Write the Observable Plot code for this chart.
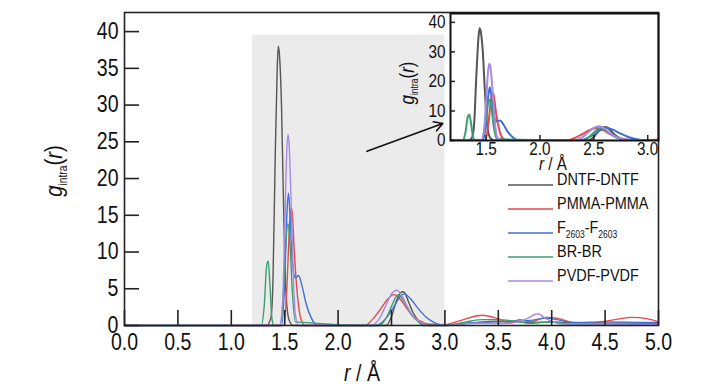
<!DOCTYPE html>
<html><head><meta charset="utf-8">
<script src="https://cdn.jsdelivr.net/npm/d3@7"></script>
<script src="https://cdn.jsdelivr.net/npm/@observablehq/plot@0.6"></script>
<style>
body{margin:0;background:#fff;}
#wrap{position:relative;width:728px;height:390px;overflow:hidden;background:#fff;}
#wrap svg{position:absolute;}
</style></head><body><div id="wrap"></div>
<script>
const FONT = '"Liberation Sans Narrow","Arial Narrow","Liberation Sans",Arial,sans-serif';

// ---- series ----
const seriesNames = ["DNTF-DNTF", "PMMA-PMMA", "F_{2603}-F_{2603}", "BR-BR", "PVDF-PVDF"];
const seriesColors = ["#555555", "#e5484d", "#3d6fd2", "#3c9e70", "#a68be2"];

const dntfR = [0, 1.33, 1.37, 1.39, 1.41, 1.43, 1.44, 1.45, 1.47, 1.49, 1.51, 1.54, 1.58, 2.45, 2.5, 2.55, 2.6, 2.62, 2.66, 2.7, 2.75, 2.8, 3.0, 3.2, 3.5, 3.8, 4.0, 4.3, 4.6, 5.0];
const dntfG = [0, 0, 1, 6, 22, 35, 38, 37, 30, 16, 5, 0.8, 0, 0, 1.2, 3.5, 4.6, 4.5, 3.2, 1.8, 0.7, 0.2, 0.1, 0.3, 0.6, 0.4, 0.5, 0.3, 0.3, 0.3];

const pmmaR = [0, 1.49, 1.52, 1.54, 1.56, 1.57, 1.59, 1.62, 1.65, 1.69, 2.25, 2.32, 2.4, 2.46, 2.52, 2.58, 2.65, 2.72, 2.8, 2.86, 3.0, 3.15, 3.35, 3.5, 3.6, 3.7, 3.8, 3.95, 4.05, 4.2, 4.35, 4.55, 4.75, 4.9, 5.0];
const pmmaG = [0, 0, 5, 12, 16, 15.5, 10, 4, 1, 0, 0, 0.8, 2.3, 3.5, 4.2, 3.6, 2.2, 1.0, 0.4, 0, 0.1, 0.7, 1.4, 0.9, 0.4, 0.8, 0.5, 1.1, 1.0, 0.4, 0.3, 0.7, 1.1, 0.9, 0.5];

const f2603R = [0, 1.47, 1.5, 1.52, 1.535, 1.55, 1.57, 1.6, 1.63, 1.66, 1.7, 1.75, 1.8, 2.35, 2.45, 2.52, 2.58, 2.62, 2.68, 2.75, 2.82, 2.9, 2.95, 3.0, 3.2, 3.5, 3.8, 3.95, 4.05, 4.2, 4.5, 5.0];
const f2603G = [0, 0, 6, 15, 18, 15, 9, 6.5, 6.8, 5.5, 3, 1, 0, 0, 1.0, 2.5, 3.9, 4.3, 3.6, 2.3, 1.2, 0.4, 0.1, 0, 0.3, 0.5, 0.7, 1.0, 0.8, 0.4, 0.5, 0.4];

const brR = [0, 1.28, 1.31, 1.33, 1.345, 1.36, 1.38, 1.4, 1.46, 1.49, 1.51, 1.53, 1.55, 1.57, 1.6, 2.38, 2.45, 2.5, 2.56, 2.62, 2.68, 2.75, 2.8, 3.0, 3.2, 3.35, 3.5, 3.65, 3.8, 4.0, 4.1, 4.3, 4.6, 5.0];
const brG = [0, 0, 3, 8, 8.8, 6, 1, 0, 0, 5, 11, 13.9, 11, 5, 0.5, 0, 1.0, 2.6, 4.2, 3.2, 1.6, 0.5, 0, 0, 0.5, 0.8, 0.8, 0.6, 0.3, 0.5, 0.3, 0.2, 0.2, 0.2];

const pvdfR = [0, 1.45, 1.48, 1.50, 1.52, 1.53, 1.54, 1.56, 1.58, 1.6, 1.63, 2.3, 2.38, 2.45, 2.5, 2.55, 2.6, 2.65, 2.7, 2.78, 2.86, 3.0, 3.3, 3.6, 3.75, 3.87, 3.95, 4.1, 4.5, 5.0];
const pvdfG = [0, 0, 3, 13, 24, 26, 25, 17, 7, 1.5, 0, 0, 0.8, 2.8, 4.3, 4.8, 4.0, 2.5, 1.3, 0.4, 0, 0, 0.3, 0.3, 0.8, 1.6, 0.9, 0.2, 0.2, 0.1];

// ---- ticks / annotations ----
const xTickValues = [0, 0.5, 1.0, 1.5, 2.0, 2.5, 3.0, 3.5, 4.0, 4.5, 5.0];
const yTickValues = [0, 5, 10, 15, 20, 25, 30, 35, 40];
const insetXTicks = [1.5, 2.0, 2.5, 3.0];
const insetYTicks = [0, 10, 20, 30, 40];
const xDomain = [0, 5];
const yDomain = [0, 42.6];
const insetXDomain = [1.17, 3.1];
const insetYDomain = [0, 43];
const zoomRegion = [{x1: 1.2, x2: 3.0, y1: 0, y2: 39.5}];
const arrowSpec = [{x1: 2.27, y1: 23.7, x2: 2.98, y2: 27.5}];

const seriesData = [[dntfR, dntfG], [pmmaR, pmmaG], [f2603R, f2603G], [brR, brG], [pvdfR, pvdfG]];
const rows = [];
seriesData.forEach(([rs, gs], i) => rs.forEach((r, j) => rows.push({r, g: gs[j], series: seriesNames[i]})));

const wrap = document.getElementById("wrap");

// horizontal squeeze of text to imitate a narrow typeface (keeps each text's anchor point)
function squeeze(node, s) {
  d3.select(node).selectAll("text").each(function () {
    const el = d3.select(this);
    const xa = el.attr("x");
    let tx = 0;
    if (xa != null && /^-?[\d.]+$/.test(xa)) { tx = +xa; el.attr("x", null); }
    const tr = el.attr("transform") || "";
    el.attr("transform", `${tr} translate(${tx},0) scale(${s},1)`);
  });
}

// ---- main plot ----
const W = 728, H = 390, mL = 124, mR = 70, mT = 12, mB = 65;
const innerW = W - mL - mR, innerH = H - mT - mB;
const main = Plot.plot({
  width: W, height: H,
  marginLeft: mL, marginRight: mR, marginTop: mT, marginBottom: mB,
  x: {domain: xDomain},
  y: {domain: yDomain},
  color: {domain: seriesNames, range: seriesColors},
  style: {fontFamily: FONT, fontSize: "23px", background: "transparent", color: "#111"},
  marks: [
    Plot.rect(zoomRegion, {x1: "x1", x2: "x2", y1: "y1", y2: "y2", fill: "#ebebeb"}),
    Plot.line(rows, {x: "r", y: "g", z: "series", stroke: "series", strokeWidth: 1.4, curve: "monotone-x"}),
    Plot.tickX(xTickValues, {x: d => d, insetTop: innerH - 15, stroke: "#222", strokeWidth: 1.6}),
    Plot.tickY(yTickValues, {y: d => d, insetRight: innerW - 15, stroke: "#222", strokeWidth: 1.6}),
    Plot.axisX(xTickValues, {tickSize: 0, tickPadding: 8, tickFormat: d3.format(".1f"), label: null}),
    Plot.axisY(yTickValues, {tickSize: 0, tickPadding: 6, label: null}),
    Plot.arrow(arrowSpec, {x1: "x1", y1: "y1", x2: "x2", y2: "y2", stroke: "#111", strokeWidth: 1.6, headLength: 9}),
    Plot.frame({stroke: "#222", strokeWidth: 1.6})
  ]
});
main.style.left = "0px"; main.style.top = "0px";
wrap.appendChild(main);

const ms = d3.select(main);
function gLabel(sel, x, y, size, subSize) {
  const t = sel.append("text")
    .attr("transform", `translate(${x},${y}) rotate(-90)`)
    .attr("text-anchor", "middle")
    .attr("font-family", FONT).attr("font-size", size).attr("fill", "#111");
  t.append("tspan").attr("font-style", "italic").text("g");
  t.append("tspan").attr("font-size", subSize).attr("dy", size * 0.22).text("intra");
  t.append("tspan").attr("dy", -size * 0.22).text("(");
  t.append("tspan").attr("font-style", "italic").text("r");
  t.append("tspan").text(")");
}
function rLabel(sel, x, y, size) {
  const t = sel.append("text")
    .attr("transform", `translate(${x},${y})`).attr("text-anchor", "middle")
    .attr("font-family", FONT).attr("font-size", size).attr("fill", "#111");
  t.append("tspan").attr("font-style", "italic").text("r");
  t.append("tspan").text(" / Å");
}
gLabel(ms, 62, 171, 24, 12);
rLabel(ms, 362, 381, 23);

// legend
const legendRowsY = [185, 209, 233, 257, 281];
const lg = ms.append("g");
seriesNames.forEach((name, i) => {
  const y = legendRowsY[i];
  lg.append("line").attr("x1", 508).attr("x2", 553).attr("y1", y).attr("y2", y)
    .attr("stroke", seriesColors[i]).attr("stroke-width", 1.6);
  const t = lg.append("text").attr("transform", `translate(557,${y})`).attr("dy", "0.36em")
    .attr("text-anchor", "start")
    .attr("font-family", FONT).attr("font-size", 17).attr("fill", "#111");
  const parts = name.split(/(_\{[^}]*\})/).filter(s => s.length);
  let sub = false;
  parts.forEach(p => {
    if (p.startsWith("_{")) {
      t.append("tspan").attr("font-size", 10).attr("dy", 5).text(p.slice(2, -1));
      sub = true;
    } else {
      t.append("tspan").attr("dy", sub ? -5 : 0).text(p);
      sub = false;
    }
  });
});
squeeze(main, 0.85);

// ---- inset ----
const iW = 290, iH = 176, iL = 70, iR = 12, iT = 13, iB = 36;
const iInnerW = iW - iL - iR, iInnerH = iH - iT - iB;
const inset = Plot.plot({
  width: iW, height: iH,
  marginLeft: iL, marginRight: iR, marginTop: iT, marginBottom: iB,
  x: {domain: insetXDomain},
  y: {domain: insetYDomain},
  color: {domain: seriesNames, range: seriesColors},
  style: {fontFamily: FONT, fontSize: "18px", background: "transparent", color: "#111"},
  marks: [
    Plot.line(rows, {x: "r", y: "g", z: "series", stroke: "series", strokeWidth: 2, curve: "monotone-x", clip: true}),
    Plot.tickX(insetXTicks, {x: d => d, insetTop: iInnerH - 5, stroke: "#222", strokeWidth: 1.5}),
    Plot.tickY(insetYTicks, {y: d => d, insetRight: iInnerW - 5, stroke: "#222", strokeWidth: 1.5}),
    Plot.axisX(insetXTicks, {tickSize: 0, tickPadding: 2, tickFormat: d3.format(".1f"), label: null}),
    Plot.axisY(insetYTicks, {tickSize: 0, tickPadding: 5, label: null}),
    Plot.frame({stroke: "#111", strokeWidth: 2})
  ]
});
inset.style.left = "380px"; inset.style.top = "0px";
wrap.appendChild(inset);
const is = d3.select(inset);
gLabel(is, 34, 83, 20, 10);
rLabel(is, 173, 170, 18);
squeeze(inset, 0.85);
</script></body></html>
